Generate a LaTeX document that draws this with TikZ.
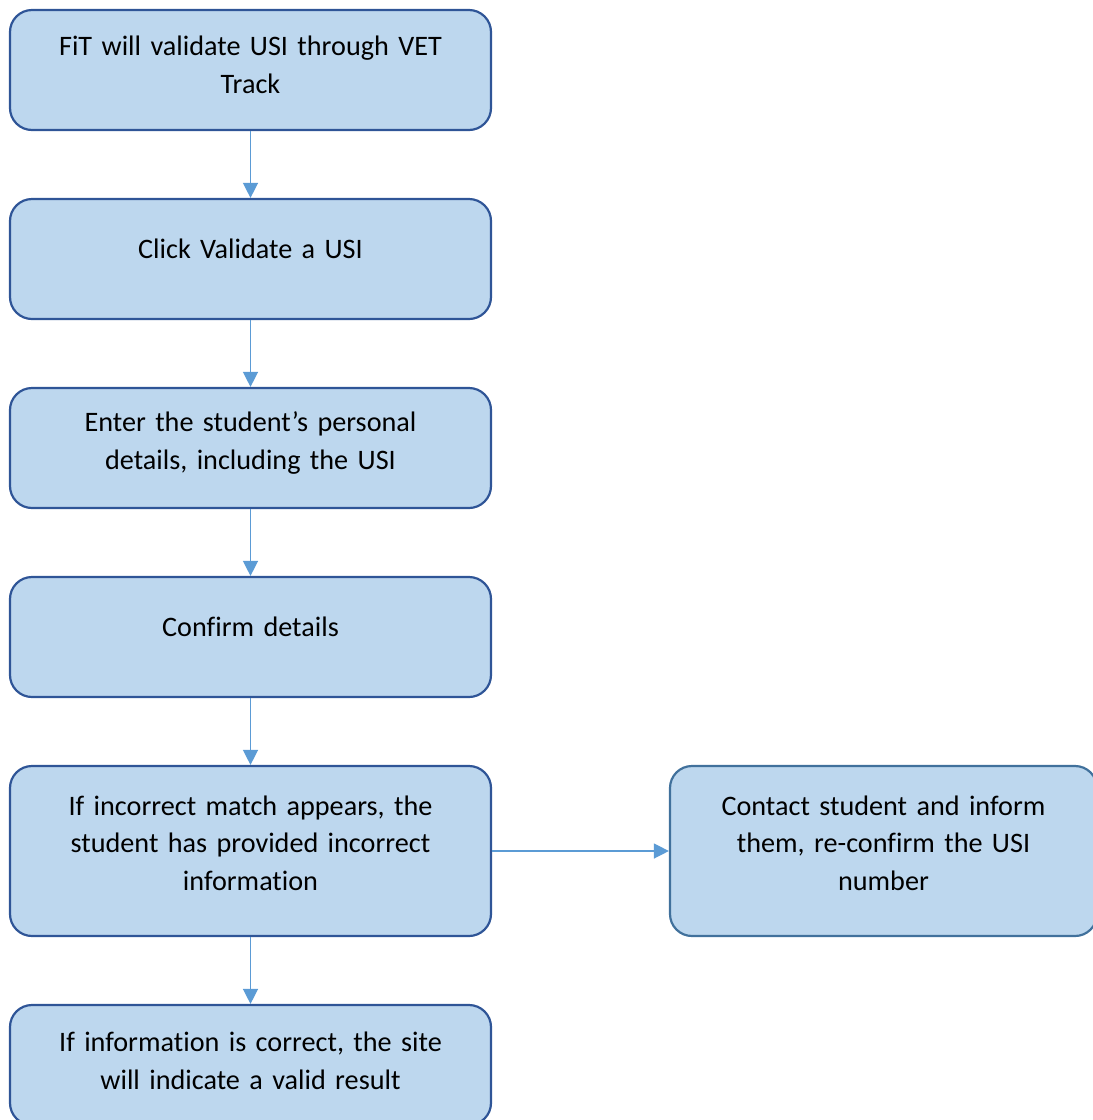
\documentclass[tikz,border=0pt]{standalone}
\usepackage{fontspec}
\setmainfont{Carlito}[Ligatures=NoCommon]
\usetikzlibrary{arrows.meta}
\definecolor{boxfill}{HTML}{BDD7EE}
\definecolor{boxline}{HTML}{2F5597}
\definecolor{sideline}{HTML}{41719C}
\definecolor{arrowc}{HTML}{5B9BD5}
\tikzset{
  stepbox/.style={draw=boxline, fill=boxfill, line width=2.2pt, rounded corners=22pt,
    minimum width=481pt, minimum height=120pt, inner sep=0pt},
  sidebox/.style={stepbox, draw=sideline, minimum width=427pt, minimum height=170pt},
  steptext/.style={font=\fontsize{28.2}{37.5}\selectfont, align=center, text width=440pt, inner sep=0pt},
  flow/.style={draw=arrowc, line width=1.4pt, -{Triangle[length=15pt,width=15pt]}}
}
\begin{document}
\begin{tikzpicture}[x=1pt,y=-1pt]
\useasboundingbox (0,0) rectangle (1093,1120);
% process boxes, left column
\node[stepbox] (b1) at (250.5,70) {};
\node[stepbox] (b2) at (250.5,259) {};
\node[stepbox] (b3) at (250.5,448) {};
\node[stepbox] (b4) at (250.5,637) {};
\node[stepbox, minimum height=170pt] (b5) at (250.5,851) {};
\node[stepbox] (b6) at (250.5,1065) {};
\node[sidebox] (r5) at (883.5,851) {};
% box texts
\node[steptext] (t1) at ([yshift=5pt]b1.center) {FiT will validate USI through VET\\Track};
\node[steptext] (t2) at ([yshift=10pt]b2.center) {Click Validate a USI};
\node[steptext] (t3) at ([yshift=5pt]b3.center) {Enter the student’s personal\\details, including the USI};
\node[steptext] (t4) at ([yshift=10pt]b4.center) {Confirm details};
\node[steptext] (t5) at ([yshift=8pt]b5.center) {If incorrect match appears, the\\student has provided incorrect\\information};
\node[steptext, text width=400pt] (t7) at ([yshift=8pt]r5.center) {Contact student and inform\\them, re-confirm the USI\\number};
\node[steptext] (t6) at ([yshift=4pt]b6.center) {If information is correct, the site\\will indicate a valid result};
% connectors
\draw[flow] (b1.south) -- (b2.north);
\draw[flow] (b2.south) -- (b3.north);
\draw[flow] (b3.south) -- (b4.north);
\draw[flow] (b4.south) -- (b5.north);
\draw[flow] (b5.south) -- (b6.north);
\draw[flow] (b5.east) -- (r5.west);
\end{tikzpicture}
\end{document}
